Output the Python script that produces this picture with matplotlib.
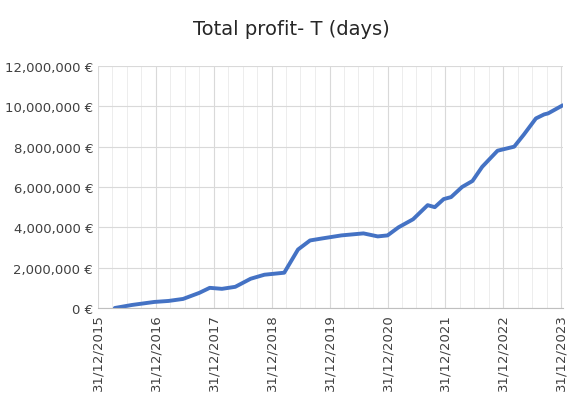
import numpy as np
import pandas as pd
import matplotlib
matplotlib.use("Agg")
import matplotlib.pyplot as plt
from matplotlib.ticker import FuncFormatter

# Anchor points
dates = ["2016-04-15", "2016-08-01", "2016-12-20", "2017-03-20", "2017-06-20",
         "2017-09-30", "2017-12-05", "2018-02-20", "2018-05-15", "2018-08-20",
         "2018-11-15", "2019-03-20", "2019-06-15", "2019-08-30", "2019-11-15",
         "2020-03-15", "2020-08-01", "2020-10-30", "2020-12-31", "2021-03-10",
         "2021-06-10", "2021-09-10", "2021-10-25", "2021-12-20", "2022-02-05",
         "2022-04-15", "2022-06-20", "2022-08-20", "2022-11-25", "2023-03-10",
         "2023-05-10", "2023-07-25", "2023-09-15", "2023-10-10", "2024-01-10"]
profit = [0.0, 0.15, 0.3, 0.35, 0.45, 0.75, 1.0, 0.95, 1.05, 1.45,
          1.65, 1.75, 2.9, 3.35, 3.45, 3.6, 3.7, 3.55, 3.6, 4.0,
          4.4, 5.1, 5.0, 5.4, 5.5, 6.0, 6.3, 7.0, 7.8, 8.0,
          8.6, 9.4, 9.6, 9.65, 10.05]

x = pd.to_datetime(dates)
y = np.array(profit) * 1e6

fig = plt.figure(figsize=(5.82, 4.02), dpi=100)
ax = fig.add_axes([98 / 582, 1 - 309 / 402, 465 / 582, 242 / 402])

ax.plot(x, y, color="#4472C4", linewidth=2.8, solid_capstyle="round")

ax.set_xlim(pd.Timestamp("2015-12-31"), pd.Timestamp("2024-01-12"))
ax.set_ylim(0, 12e6)
ax.set_yticks(np.arange(0, 12.1e6, 2e6))
ax.yaxis.set_major_formatter(FuncFormatter(lambda v, p: f"{v:,.0f} €"))

major = [pd.Timestamp(f"{yr}-12-31") for yr in range(2015, 2024)]
ax.set_xticks(major)
ax.set_xticklabels([d.strftime("%d/%m/%Y") for d in major], rotation=90)
minor = pd.date_range("2016-03-31", "2023-12-31", freq="QE")
ax.set_xticks([m for m in minor if m.month != 12], minor=True)

ax.grid(True, which="major", color="#D9D9D9", linewidth=0.8)
ax.grid(True, which="minor", axis="x", color="#EDEDED", linewidth=0.7)
ax.set_axisbelow(True)
for s in ["top", "right", "left"]:
    ax.spines[s].set_visible(False)
ax.spines["bottom"].set_color("#BFBFBF")
ax.tick_params(which="both", length=0, labelsize=9.5, colors="#404040")

fig.suptitle("Total profit- T (days)", y=0.95, fontsize=14, color="#262626")
fig.savefig("out.png", dpi=100)
